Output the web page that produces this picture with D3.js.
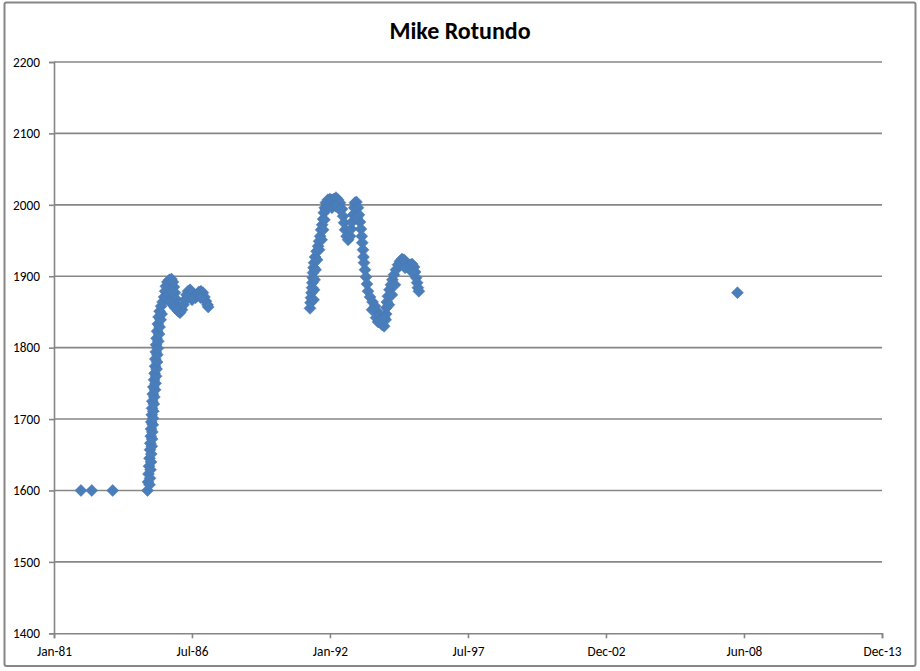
<!DOCTYPE html>
<html>
<head>
<meta charset="utf-8">
<script src="https://cdn.jsdelivr.net/npm/d3@7"></script>
<style>
  html, body { margin: 0; padding: 0; background: #fff; }
  svg { display: block; }
  text { font-family: Calibri, Carlito, "Liberation Sans", Arial, sans-serif; }
</style>
</head>
<body>
<svg id="chart" width="920" height="671"></svg>
<script>
// ---------------- data ----------------
const chartTitle = "Mike Rotundo";

// dates as decimal years (main trace of the rating history)
const years = [
  1982.10, 1982.53, 1983.36,
  1984.74,1984.76,1984.78,1984.80,1984.82,1984.84,1984.85,1984.87,1984.88,1984.89,
  1984.91,1984.92,1984.93,1984.95,1984.97,1985.00,1985.02,1985.04,1985.05,1985.07,
  1985.08,1985.10,1985.12,1985.15,1985.18,1985.22,1985.28,1985.34,1985.40,1985.44,
  1985.47,1985.53,1985.61,1985.69,1985.75,1985.79,1985.83,1985.87,1985.91,1985.96,
  1986.03,1986.11,1986.17,1986.23,1986.29,1986.35,1986.43,1986.51,1986.59,1986.65,
  1986.71,1986.78,1986.86,1986.94,1987.00,1987.06,1987.12,1987.15,
  1991.19,1991.21,1991.23,1991.25,1991.27,1991.28,1991.30,1991.31,1991.33,1991.35,
  1991.39,1991.45,1991.51,1991.55,1991.59,1991.63,1991.67,1991.71,1991.74,1991.78,
  1991.82,1991.90,1991.98,1992.06,1992.14,1992.22,1992.30,1992.38,1992.46,1992.50,
  1992.54,1992.58,1992.64,1992.70,1992.78,1992.82,1992.86,1992.90,1992.94,1992.97,
  1993.03,1993.09,1993.13,1993.17,1993.21,1993.24,1993.26,1993.29,1993.31,1993.33,
  1993.37,1993.41,1993.45,1993.49,1993.57,1993.67,1993.77,1993.85,1993.91,1993.97,
  1994.05,1994.13,1994.19,1994.21,1994.22,1994.24,1994.28,1994.34,1994.40,1994.46,
  1994.52,1994.60,1994.68,1994.76,1994.84,1994.92,1995.00,1995.08,1995.16,1995.24,
  1995.32,1995.36,1995.40,1995.44,1995.47,1995.51,
  2008.15
];

const ratings = [
  1600, 1600, 1600,
  1600,1612,1623,1634,1645,1657,1666,1676,1686,1696,
  1706,1715,1725,1735,1745,1755,1764,1774,1784,1794,
  1804,1813,1823,1833,1843,1851,1858,1864,1871,1879,
  1886,1892,1895,1896,1892,1885,1877,1868,1860,1851,
  1849,1853,1860,1867,1874,1879,1881,1877,1871,1870,
  1874,1878,1879,1877,1871,1865,1860,1857,
  1855,1863,1870,1877,1884,1891,1898,1905,1912,1919,
  1927,1935,1942,1949,1956,1965,1972,1980,1989,1996,
  2003,2007,2008,2007,2008,2010,2007,2003,1994,1984,
  1975,1965,1956,1951,1956,1966,1976,1986,1996,2003,
  2004,1996,1986,1976,1966,1956,1947,1937,1927,1919,
  1909,1899,1889,1879,1871,1864,1858,1851,1844,1837,
  1832,1830,1839,1847,1856,1864,1872,1881,1888,1895,
  1902,1909,1916,1921,1924,1923,1919,1914,1916,1917,
  1913,1906,1898,1891,1884,1879,
  1877
];

// further readings inside the dense bands of the same series
const bandYears = [
  1984.82,1984.84,1984.86,1984.88,1984.89,1984.91,1984.92,1984.93,1984.95,1984.96,
  1984.97,1984.99,1985.01,1985.04,1985.06,1985.08,1985.10,1985.12,1985.13,1985.15,
  1985.17,1985.20,1985.22,1985.26,1985.30,
  1985.47,1985.59,1985.71,1985.63,1985.75,1985.83,
  1986.35,1986.51,1986.86,
  1991.33,1991.35,1991.37,1991.41,1991.47,1991.55,1991.65,1991.71,1991.76,1991.82,
  1991.90,1992.06,1992.22,1992.38,1993.05,
  1993.65,1993.81,1993.89,
  1994.13,1994.32,1994.44,1994.56,
  1994.96,1995.24
];
const bandRatings = [
  1608,1617,1629,1640,1651,1662,1672,1682,1692,1701,
  1711,1721,1731,1741,1750,1760,1770,1780,1790,1799,
  1809,1819,1829,1839,1847,
  1870,1875,1878,1864,1861,1856,
  1870,1867,1870,
  1867,1881,1895,1909,1923,1937,1951,1965,1979,1993,
  1997,1996,1998,1993,1982,
  1853,1842,1836,
  1842,1860,1874,1888,
  1912,1906
];

const xDomainYears = [1981.03, 2013.884];
const xTickYears = [1981.03, 1986.505, 1991.981, 1997.456, 2002.932, 2008.408, 2013.884];
const xTickLabels = ["Jan-81", "Jul-86", "Jan-92", "Jul-97", "Dec-02", "Jun-08", "Dec-13"];
const yTicks = [1400, 1500, 1600, 1700, 1800, 1900, 2000, 2100, 2200];
const yDomain = [1400, 2200];

// ---------------- helpers ----------------
function yearToDate(y) {
  const yr = Math.floor(y);
  const start = Date.UTC(yr, 0, 1);
  const end = Date.UTC(yr + 1, 0, 1);
  return new Date(start + (y - yr) * (end - start));
}

const points = years.map((y, i) => ({ date: yearToDate(y), value: ratings[i] }))
  .concat(bandYears.map((y, i) => ({ date: yearToDate(y), value: bandRatings[i] })));

// ---------------- layout ----------------
const svg = d3.select("#chart");
const plot = { left: 54, right: 882, top: 62, bottom: 633.3 };
const gridColor = "#868686";
const markerColor = "#4A7EBB";
const markerHalf = 6;
const fontStack = 'Calibri, Carlito, "Liberation Sans", Arial, sans-serif';

svg.append("rect")
  .attr("x", 4.5).attr("y", 2.5)
  .attr("width", 911).attr("height", 663.5)
  .attr("rx", 2)
  .attr("fill", "#fff")
  .attr("stroke", gridColor)
  .attr("stroke-width", 2);

const x = d3.scaleUtc()
  .domain(xDomainYears.map(yearToDate))
  .range([plot.left, plot.right]);

const y = d3.scaleLinear()
  .domain(yDomain)
  .range([plot.bottom, plot.top]);

// gridlines
svg.append("g")
  .selectAll("line")
  .data(yTicks.filter(t => t !== yDomain[0]))
  .join("line")
  .attr("x1", plot.left).attr("x2", plot.right)
  .attr("y1", d => y(d)).attr("y2", d => y(d))
  .attr("stroke", gridColor)
  .attr("stroke-width", 1.6);

// y axis
const yAxis = svg.append("g")
  .attr("transform", `translate(${plot.left},0)`)
  .call(d3.axisLeft(y).tickValues(yTicks).tickSize(5).tickPadding(9).tickFormat(d3.format("d")));
yAxis.select(".domain").attr("stroke", gridColor).attr("stroke-width", 1.6);
yAxis.selectAll(".tick line").attr("stroke", gridColor).attr("stroke-width", 1.6);
yAxis.selectAll("text")
  .attr("fill", "#000")
  .style("font-size", "13.3px")
  .style("font-family", fontStack);

// x axis
const xAxis = svg.append("g")
  .attr("transform", `translate(0,${plot.bottom})`)
  .call(d3.axisBottom(x)
    .tickValues(xTickYears.map(yearToDate))
    .tickSize(5).tickPadding(8)
    .tickFormat((d, i) => xTickLabels[i]));
xAxis.select(".domain").attr("stroke", gridColor).attr("stroke-width", 1.6);
xAxis.selectAll(".tick line").attr("stroke", gridColor).attr("stroke-width", 1.6);
xAxis.selectAll("text")
  .attr("fill", "#000")
  .style("font-size", "13.3px")
  .style("font-family", fontStack);

// markers
const diamond = `M0,${-markerHalf}L${markerHalf},0L0,${markerHalf}L${-markerHalf},0Z`;
svg.append("g")
  .selectAll("path")
  .data(points)
  .join("path")
  .attr("d", diamond)
  .attr("transform", d => `translate(${x(d.date)},${y(d.value)})`)
  .attr("fill", markerColor)
  .attr("stroke", "#4677B3")
  .attr("stroke-width", 0.5);

// title
svg.append("text")
  .attr("x", 460)
  .attr("y", 39)
  .attr("text-anchor", "middle")
  .attr("fill", "#000")
  .style("font-size", "24px")
  .style("font-weight", "bold")
  .style("font-family", fontStack)
  .text(chartTitle);
</script>
</body>
</html>
